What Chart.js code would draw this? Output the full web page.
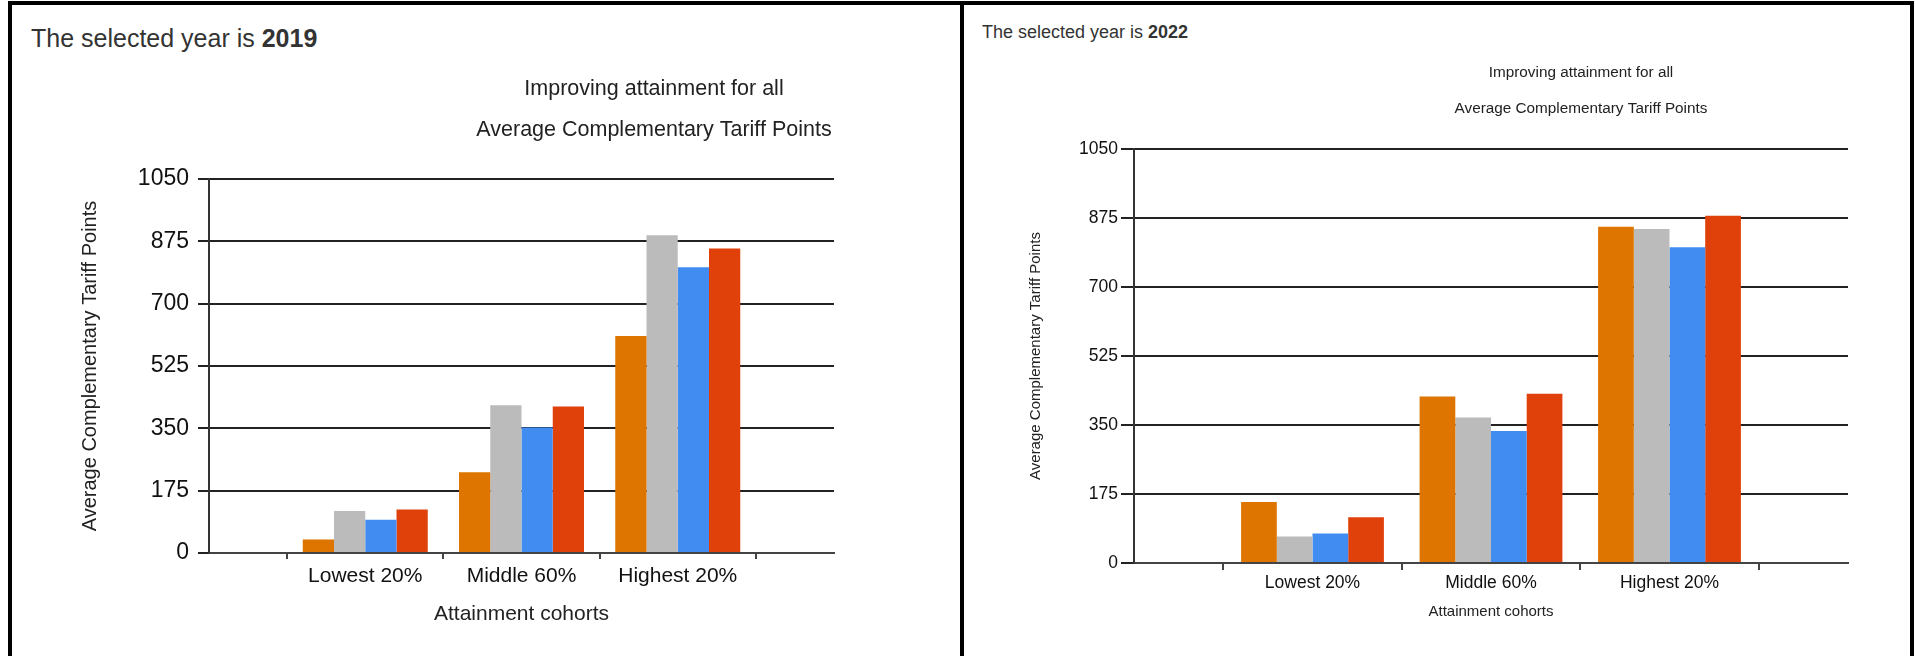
<!DOCTYPE html>
<html>
<head>
<meta charset="utf-8">
<title>Improving attainment for all</title>
<script src="https://cdn.jsdelivr.net/npm/chart.js@4.4.1/dist/chart.umd.min.js"></script>
<style>
  html, body { margin: 0; padding: 0; background: #fff; overflow: hidden; }
  body { width: 1915px; height: 656px; position: relative; font-family: "Liberation Sans", Arial, sans-serif; }
  .frame { position: absolute; top: 1px; height: 700px; border-top: 4px solid #000; box-sizing: border-box; }
  #frameLeft { left: 8px; width: 956px; border-left: 4px solid #000; border-right: 4px solid #000; }
  #frameRight { left: 964px; width: 950px; border-right: 4px solid #000; }
  .year { position: absolute; color: #333; white-space: nowrap; }
  #yearLeft { left: 31px; top: 26px; font-size: 25px; line-height: 25px; }
  #yearRight { left: 982px; top: 23px; font-size: 18px; line-height: 18px; }
  canvas { position: absolute; }
  #chartLeft { left: 12px; top: 60px; }
  #chartRight { left: 964px; top: 50px; }
</style>
</head>
<body>
<div class="frame" id="frameLeft"></div>
<div class="frame" id="frameRight"></div>
<div class="year" id="yearLeft">The selected year is <b>2019</b></div>
<div class="year" id="yearRight">The selected year is <b>2022</b></div>
<canvas id="chartLeft"></canvas>
<canvas id="chartRight"></canvas>
<script>
const FONT = '"Liberation Sans", Arial, sans-serif';

const cohorts = ['Lowest 20%', 'Middle 60%', 'Highest 20%'];
const yTickValues = [0, 175, 350, 525, 700, 875, 1050];
const chartTitleLines = ['Improving attainment for all', 'Average Complementary Tariff Points'];
const xAxisTitle = 'Attainment cohorts';
const yAxisTitle = 'Average Complementary Tariff Points';
const seriesColours = ['#DD7500', '#BBBBBB', '#418CF0', '#E0410A'];

// 2019 (left chart), one array per bar colour
const series1_2019 = [38, 227, 609];
const series2_2019 = [118, 415, 892];
const series3_2019 = [93, 352, 802];
const series4_2019 = [122, 411, 855];

// 2022 (right chart)
const series1_2022 = [155, 422, 853];
const series2_2022 = [67, 369, 847];
const series3_2022 = [75, 335, 801];
const series4_2022 = [116, 429, 881];

// empty half-slots either side of the three cohorts, like the original axis
function padEnds(arr) {
    return [null, ...arr, null];
}

function makeChart(canvasId, seriesList, L) {
    const canvas = document.getElementById(canvasId);
    canvas.width = L.width;
    canvas.height = L.height;

    // the two title lines sit off-centre, so draw them ourselves
    const panelTitle = {
        id: 'panelTitle',
        afterDraw(chart) {
            const ctx = chart.ctx;
            ctx.save();
            ctx.font = L.titleSize + 'px ' + FONT;
            ctx.fillStyle = '#222';
            ctx.textAlign = 'center';
            ctx.textBaseline = 'middle';
            chartTitleLines.forEach((t, i) => ctx.fillText(t, L.titleX, L.titleY[i]));
            ctx.restore();
        }
    };

    return new Chart(canvas, {
        type: 'bar',
        data: {
            labels: ['', ...cohorts, ''],
            datasets: seriesList.map((vals, i) => ({
                label: 'Series ' + (i + 1),
                data: padEnds(vals),
                backgroundColor: seriesColours[i],
                borderWidth: 0,
                categoryPercentage: 0.8,
                barPercentage: 1.0
            }))
        },
        options: {
            responsive: false,
            animation: false,
            events: [],
            layout: {
                padding: { left: 0, top: L.plotTop, right: L.width - L.plotRight, bottom: 0 }
            },
            plugins: {
                legend: { display: false },
                tooltip: { enabled: false },
                title: { display: false }
            },
            scales: {
                x: {
                    offset: false,
                    grid: {
                        offset: true,
                        drawOnChartArea: false,
                        drawTicks: true,
                        tickLength: L.xTickLen,
                        color: '#444',
                        lineWidth: 2
                    },
                    border: { display: true, color: '#444', width: 2 },
                    ticks: {
                        font: { family: FONT, size: L.xTickSize },
                        color: '#111',
                        padding: L.xTickPad,
                        maxRotation: 0,
                        autoSkip: false
                    },
                    title: {
                        display: true,
                        text: xAxisTitle,
                        font: { family: FONT, size: L.xTitleSize },
                        color: '#222',
                        padding: { top: 0, bottom: L.xTitlePad }
                    },
                    afterFit(scale) {
                        scale.height = L.height - L.plotBottom;
                        scale.paddingLeft = 0;
                        scale.paddingRight = 0;
                    }
                },
                y: {
                    min: 0,
                    max: 1050,
                    afterBuildTicks(scale) {
                        scale.ticks = yTickValues.map(v => ({ value: v }));
                    },
                    grid: {
                        color: '#222',
                        lineWidth: 2,
                        drawTicks: true,
                        tickLength: L.yTickLen
                    },
                    border: { display: true, color: '#333', width: 2 },
                    ticks: {
                        font: { family: FONT, size: L.yTickSize },
                        color: '#111',
                        padding: L.yTickPad,
                        callback: v => String(v)
                    },
                    title: {
                        display: true,
                        text: yAxisTitle,
                        font: { family: FONT, size: L.yTitleSize },
                        color: '#222',
                        padding: { top: L.yTitlePad, bottom: 0 }
                    },
                    afterFit(scale) {
                        scale.width = L.plotLeft;
                        scale.paddingTop = 0;
                        scale.paddingBottom = 0;
                    }
                }
            }
        },
        plugins: [panelTitle]
    });
}

makeChart('chartLeft',
    [series1_2019, series2_2019, series3_2019, series4_2019],
    {
        width: 948, height: 596,
        plotLeft: 197, plotRight: 822, plotTop: 119, plotBottom: 493,
        titleX: 642, titleY: [28.7, 69.7], titleSize: 21.5,
        yTickSize: 23, yTickPad: 9, yTickLen: 11,
        xTickSize: 21, xTickPad: 5, xTickLen: 6,
        yTitleSize: 20, yTitlePad: 66,
        xTitleSize: 21, xTitlePad: 29
    });

makeChart('chartRight',
    [series1_2022, series2_2022, series3_2022, series4_2022],
    {
        width: 946, height: 606,
        plotLeft: 170, plotRight: 884, plotTop: 99, plotBottom: 513,
        titleX: 617, titleY: [23.2, 58.8], titleSize: 15.3,
        yTickSize: 17.5, yTickPad: 3, yTickLen: 13,
        xTickSize: 17.5, xTickPad: 3, xTickLen: 7,
        yTitleSize: 15, yTitlePad: 63,
        xTitleSize: 15, xTitlePad: 35
    });
</script>
</body>
</html>
